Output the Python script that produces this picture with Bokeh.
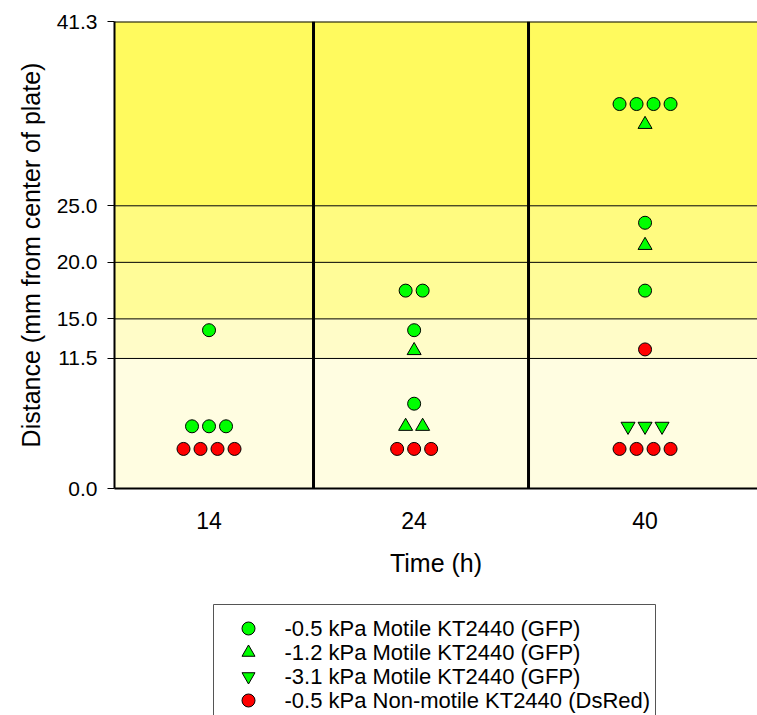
from collections import Counter
from bokeh.plotting import figure
from bokeh.layouts import column
from bokeh.core.properties import value
from bokeh.models import (Range1d, FixedTicker, BoxAnnotation, Span,
                          ColumnDataSource, NumeralTickFormatter,
                          CustomJSTickFormatter)
from bokeh.embed import file_html
from bokeh.resources import INLINE

# ---------------- data ----------------
TIME_LABELS = ["14", "24", "40"]
Y_TICKS = [0.0, 11.5, 15.0, 20.0, 25.0, 41.3]
BAND_EDGES = [0.0, 11.5, 15.0, 20.0, 25.0, 41.3]
BAND_COLORS = ["#FFFDE1", "#FFFCC8", "#FFFC98", "#FFFB80", "#FFFA5E"]

# -0.5 kPa Motile KT2440 (GFP)
gfp05_time = [14, 14, 14, 14, 24, 24, 24, 24, 40, 40, 40, 40, 40, 40]
gfp05_dist = [5.5, 5.5, 5.5, 14.0, 7.5, 14.0, 17.5, 17.5, 17.5, 23.5, 34.0, 34.0, 34.0, 34.0]
# -1.2 kPa Motile KT2440 (GFP)
gfp12_time = [24, 24, 24, 40, 40]
gfp12_dist = [5.5, 5.5, 12.2, 21.5, 32.2]
# -3.1 kPa Motile KT2440 (GFP)
gfp31_time = [40, 40, 40]
gfp31_dist = [5.5, 5.5, 5.5]
# -0.5 kPa Non-motile KT2440 (DsRed)
dsred_time = [14, 14, 14, 14, 24, 24, 24, 40, 40, 40, 40, 40]
dsred_dist = [3.5, 3.5, 3.5, 3.5, 3.5, 3.5, 3.5, 3.5, 3.5, 3.5, 3.5, 12.3]

LABELS = ["-0.5 kPa Motile KT2440 (GFP)",
          "-1.2 kPa Motile KT2440 (GFP)",
          "-3.1 kPa Motile KT2440 (GFP)",
          "-0.5 kPa Non-motile KT2440 (DsRed)"]

# ---------------- layout ----------------
GROUP_CENTER = {14: 0.514, 24: 1.468, 40: 2.542}
STEP = 0.0791
FONT = "Liberation Sans"


def dodge(times, dists):
    counts = Counter(zip(times, dists))
    seen = Counter()
    xs = []
    for t, d in zip(times, dists):
        key = (t, d)
        n = counts[key]
        i = seen[key]
        seen[key] += 1
        xs.append(GROUP_CENTER[t] + (i - (n - 1) / 2) * STEP)
    return xs


p = figure(width=757, height=590, output_backend="svg", toolbar_location=None,
           x_range=Range1d(0.0744, 3.065), y_range=Range1d(0, 41.3),
           min_border_left=114, min_border_top=21, min_border_bottom=102,
           min_border_right=0)
p.outline_line_color = None
p.grid.visible = False
p.background_fill_color = "white"

for lo, hi, c in zip(BAND_EDGES[:-1], BAND_EDGES[1:], BAND_COLORS):
    p.add_layout(BoxAnnotation(bottom=lo, top=hi, fill_color=c, fill_alpha=1.0,
                               line_color=None, level="underlay"))
for yv in BAND_EDGES[1:-1]:
    p.add_layout(Span(location=yv, dimension="width", line_color="black",
                      line_width=1, level="underlay"))
p.add_layout(Span(location=BAND_EDGES[-1], dimension="width", line_color="black",
                  line_width=2, level="underlay"))
for xv in (1.0, 2.0):
    p.add_layout(Span(location=xv, dimension="height", line_color="black",
                      line_width=3, level="underlay"))

series = [
    (gfp05_time, gfp05_dist, "circle", "#00FF00", 13),
    (gfp12_time, gfp12_dist, "triangle", "#00FF00", 14),
    (gfp31_time, gfp31_dist, "inverted_triangle", "#00FF00", 14),
    (dsred_time, dsred_dist, "circle", "#FF0000", 13),
]
for times, dists, marker, color, size in series:
    src = ColumnDataSource(dict(x=dodge(times, dists), y=dists))
    p.scatter("x", "y", source=src, marker=marker, size=size,
              fill_color=color, line_color="black", line_width=1)

# axes
xa = p.xaxis[0]
xa.ticker = FixedTicker(ticks=[GROUP_CENTER[int(t)] for t in TIME_LABELS], minor_ticks=[])
xa.formatter = CustomJSTickFormatter(args=dict(labels=TIME_LABELS), code="return labels[index];")
xa.major_tick_out = 0
xa.major_tick_in = 0
xa.minor_tick_out = 0
xa.axis_line_width = 2
xa.axis_line_color = "black"
xa.major_label_standoff = 23
xa.major_label_text_font = FONT
xa.major_label_text_font_size = "23px"
xa.major_label_text_color = "black"
xa.axis_label = "Time (h)"
xa.axis_label_text_font = FONT
xa.axis_label_text_font_size = "25px"
xa.axis_label_text_font_style = "normal"
xa.axis_label_text_color = "black"
xa.axis_label_standoff = 17

ya = p.yaxis[0]
ya.ticker = FixedTicker(ticks=Y_TICKS, minor_ticks=[])
ya.formatter = NumeralTickFormatter(format="0.0")
ya.major_tick_out = 7
ya.major_tick_in = 0
ya.minor_tick_out = 0
ya.major_tick_line_color = "black"
ya.axis_line_width = 2
ya.axis_line_color = "black"
ya.major_label_standoff = 10
ya.major_label_text_font = FONT
ya.major_label_text_font_size = "21px"
ya.major_label_text_color = "black"
ya.axis_label = "Distance (mm from center of plate)"
ya.axis_label_text_font = FONT
ya.axis_label_text_font_size = "25px"
ya.axis_label_text_font_style = "normal"
ya.axis_label_text_color = "black"
ya.axis_label_standoff = 9

# ---------------- legend panel (screen-like coordinates) ----------------
lg = figure(width=757, height=125, output_backend="svg", toolbar_location=None,
            x_range=Range1d(114, 757), y_range=Range1d(715, 590),
            x_axis_location=None, y_axis_location=None,
            min_border_left=114, min_border_right=0, min_border_top=0, min_border_bottom=0)
lg.outline_line_color = None
lg.grid.visible = False
lg.background_fill_color = "white"

BOX_L, BOX_R, BOX_T, BOX_B = 213, 655, 604, 740
ROW0, ROW_STEP, GLYPH_X, TEXT_X = 628, 24, 248, 284

lg.quad(left=[BOX_L], right=[BOX_R], top=[BOX_T], bottom=[BOX_B],
        fill_color="white", line_color="#555555", line_width=1)
for i, (label, (_, _, marker, color, _)) in enumerate(zip(LABELS, series)):
    yy = ROW0 + i * ROW_STEP
    lg.scatter(x=[GLYPH_X], y=[yy], marker=marker, size=13,
               fill_color=color, line_color="black", line_width=1)
    lg.text(x=[TEXT_X], y=[yy], text=[label], text_font=value(FONT),
            text_font_size="22px", text_color="black",
            text_align="left", text_baseline="middle")

layout = column(p, lg, spacing=0)
open("out.html", "w").write(file_html(layout, INLINE))
